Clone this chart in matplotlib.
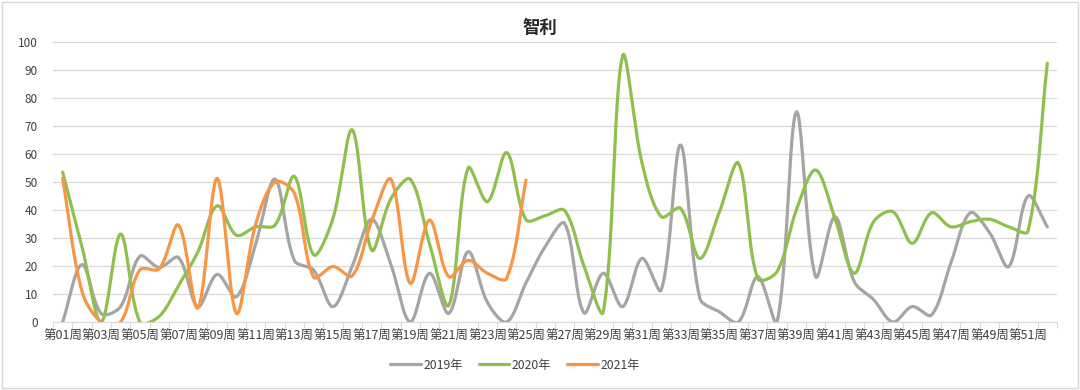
import numpy as np
import matplotlib
matplotlib.use("Agg")
import matplotlib.pyplot as plt
from matplotlib.patches import Rectangle

plt.rcParams['font.family'] = ['Noto Sans CJK SC', 'DejaVu Sans']

title = "智利"
weeks = [f"第{i:02d}周" for i in range(1, 53)]
series_names = ["2019年", "2020年", "2021年"]

v2019 = [0, 20.5, 3, 5.5, 23.5, 19.5, 23, 5.5, 17, 9,
         28, 51, 22, 18.5, 5.5, 20, 36.7, 20.5, 0, 17.4,
         3.1, 25.1, 7, 0, 14, 27, 35.2, 3.3, 17.4, 5.5,
         22.7, 11.4, 63.2, 8.5, 3.7, 0, 16.2, 0, 75, 16.2,
         37.6, 14.4, 8, 0, 5.5, 2.5, 21, 39, 32, 19.8,
         45, 34]
v2020 = [53.5, 27, 0, 31.4, 0, 2, 13, 25, 41.5, 31,
         34, 34.6, 52, 24, 37, 68.6, 25.7, 44, 51, 28,
         6, 55, 43, 60.5, 36.5, 38, 39.8, 20, 3.7, 95,
         57, 37.6, 40.6, 22.7, 39, 56.7, 15.5, 18, 40, 54.3,
         37, 17.4, 35.8, 39.4, 28.1, 39, 34, 35.8, 36.7, 34,
         32.5, 92.4]
v2021 = [51.3, 11, 0, 0, 18.6, 19, 34.6, 5, 51.3, 3.1,
         35, 50, 46, 16, 19.8, 16.5, 36, 51, 13.8, 36.4,
         16.2, 22, 17.4, 15.6, 50.7]

colors = ["#A5A5A5", "#8FC04F", "#F79646"]

# pixel scale used only for the shape of the smoothing (Excel-like)
SX, SY = 19.3, 2.8


def smooth(vals, n=60):
    y = np.asarray(vals, dtype=float)
    x = np.arange(len(y), dtype=float)
    P = np.column_stack([x * SX, y * SY])
    m = len(P)
    cout = np.zeros_like(P)
    cin = np.zeros_like(P)
    for i in range(m):
        prev = P[i - 1] if i > 0 else P[i]
        nxt = P[i + 1] if i < m - 1 else P[i]
        T = nxt - prev
        d0 = np.hypot(*(P[i] - prev))
        d1 = np.hypot(*(nxt - P[i]))
        tot = d0 + d1 if d0 + d1 > 0 else 1.0
        cout[i] = P[i] + T * (d1 / tot) / 3.0
        cin[i] = P[i] - T * (d0 / tot) / 3.0
    xs, ys = [], []
    t = np.linspace(0, 1, n)[:, None]
    for i in range(m - 1):
        p1, c1, c2, p2 = P[i], cout[i], cin[i + 1], P[i + 1]
        b = ((1 - t) ** 3) * p1 + 3 * ((1 - t) ** 2) * t * c1 + 3 * (1 - t) * t ** 2 * c2 + t ** 3 * p2
        xs.append(b[:, 0] / SX)
        ys.append(b[:, 1] / SY)
    return np.concatenate(xs), np.concatenate(ys)


fig = plt.figure(figsize=(10.8, 3.9), dpi=100)
ax = fig.add_axes([53 / 1080, 1 - 322 / 390, 1004 / 1080, 280 / 390])

for name, vals, c in zip(series_names, [v2019, v2020, v2021], colors):
    xs, ys = smooth(vals)
    ax.plot(xs, ys, color=c, lw=2.3, label=name, solid_capstyle='round', zorder=3)

ax.set_xlim(-0.5, 51.5)
ax.set_ylim(0, 100)
ax.set_yticks(np.arange(0, 101, 10))
ax.yaxis.grid(True, color="#D9D9D9", lw=0.9)
ax.set_axisbelow(True)
for s in ["top", "right", "left"]:
    ax.spines[s].set_visible(False)
ax.spines["bottom"].set_color("#D9D9D9")
ax.tick_params(axis='y', length=0, labelsize=8.5, colors="#404040", pad=11)

ax.set_xticks(np.arange(-0.5, 52, 1))
ax.set_xticklabels([])
ax.tick_params(axis='x', which='major', length=4, color="#D9D9D9", direction='out')
ax.set_xticks(np.arange(0, 52, 2), minor=True)
ax.set_xticklabels(weeks[::2], minor=True)
ax.tick_params(axis='x', which='minor', length=0, labelsize=9.0, colors="#404040", pad=6)

fig.text(0.5, 1 - 28 / 390, title, ha='center', va='center', fontsize=12.5,
         fontweight='bold', color="#262626")

leg = fig.legend(loc='center', bbox_to_anchor=(515 / 1080, 1 - 365 / 390), ncol=3,
                 frameon=False, fontsize=8.8, handlelength=2.5, columnspacing=1.3,
                 handletextpad=0.2)
for t in leg.get_texts():
    t.set_color("#404040")

fig.patches.append(Rectangle((0.002, 0.004), 0.996, 0.992, transform=fig.transFigure,
                             fill=False, ec="#D9D9D9", lw=1))

fig.savefig("out.png", dpi=100)
